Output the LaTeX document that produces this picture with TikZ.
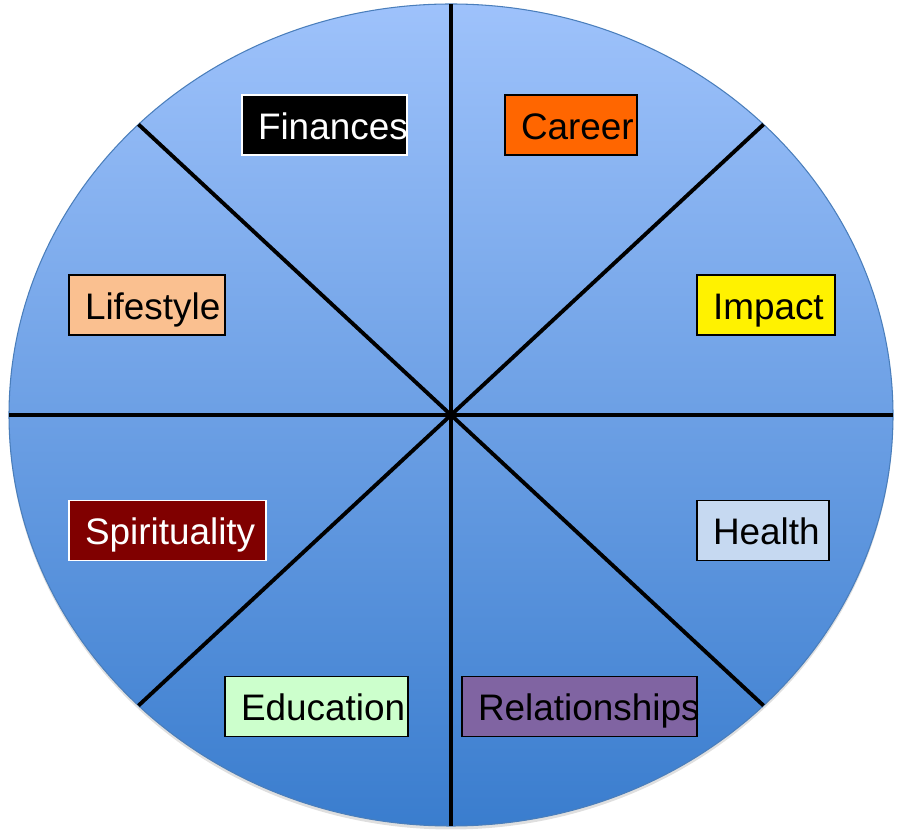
\documentclass[tikz,border=0pt]{standalone}
\usepackage{fontspec}
\setmainfont{Liberation Sans}
\usepackage{xcolor}
\usepackage{tikz}
\usetikzlibrary{shapes.geometric, shadows}

\definecolor{wheeltop}{RGB}{158,194,251}
\definecolor{wheelbottom}{RGB}{58,125,206}
\definecolor{wheeledge}{RGB}{74,126,187}
\definecolor{careerorange}{HTML}{FF6600}
\definecolor{lifestylepeach}{HTML}{FAC090}
\definecolor{spiritred}{HTML}{800000}
\definecolor{healthblue}{HTML}{C6D9F1}
\definecolor{edugreen}{HTML}{CCFFCC}
\definecolor{relpurple}{HTML}{8064A2}

\begin{document}
\begin{tikzpicture}[
    wheel/.style={ellipse, draw=wheeledge, line width=0.6pt, inner sep=0pt,
                  minimum width=17.68cm, minimum height=16.44cm,
                  top color=wheeltop, bottom color=wheelbottom,
                  drop shadow={shadow xshift=0cm, shadow yshift=-0.07cm, opacity=0.25}},
    spoke/.style={line width=2.2pt, black},
    area/.style={rectangle, draw, line width=0.7pt, minimum height=1.2cm,
                 inner xsep=0pt, inner ysep=0pt, text height=1.6em, text depth=0pt,
                 align=left, font=\fontsize{21}{25}\selectfont,
                 execute at begin node={\hyphenpenalty=10000 \hspace*{3.2mm}}}
]
\useasboundingbox (0,0) rectangle (18.04,16.8);
\node[wheel] (wheel) at (9.02,8.5) {};
\foreach \a in {0,45,...,315}
    \draw[spoke] (wheel.center) -- +(\a:8.84 and 8.22);

\node[area, fill=black, draw=white, text=white, text width=3.3cm] (finances) at (6.49,14.3) {Finances};
\node[area, fill=careerorange, text width=2.64cm] (career) at (11.42,14.3) {Career};
\node[area, fill=lifestylepeach, text width=3.12cm] (lifestyle) at (2.94,10.7) {Lifestyle};
\node[area, fill=yellow, text width=2.76cm] (impact) at (15.32,10.7) {Impact};
\node[area, fill=spiritred, draw=white, text=white, text width=3.94cm] (spirituality) at (3.35,6.19) {Spirituality};
\node[area, fill=healthblue, text width=2.64cm] (health) at (15.26,6.19) {Health};
\node[area, fill=edugreen, text width=3.66cm] (education) at (6.33,2.67) {Education};
\node[area, fill=relpurple, text width=4.7cm] (relationships) at (11.59,2.67) {Relationships};
\end{tikzpicture}
\end{document}
